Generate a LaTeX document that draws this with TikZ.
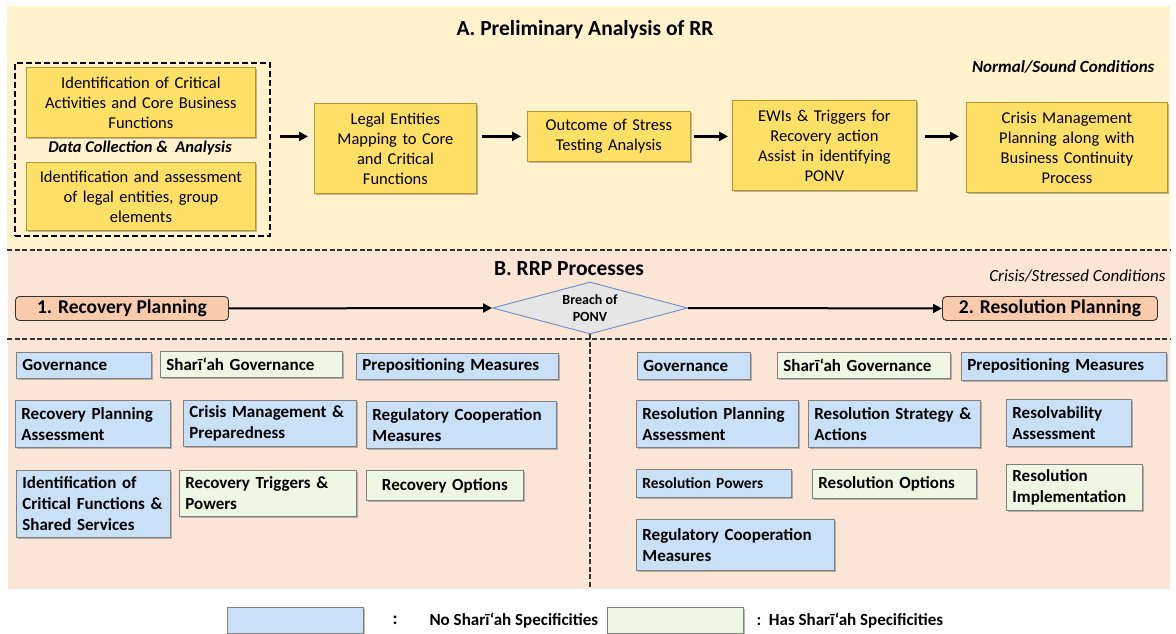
\documentclass[tikz,border=0pt]{standalone}
\usepackage{fontspec}
\setmainfont{Carlito}
\usetikzlibrary{positioning, shapes.geometric, shadows, arrows.meta}

\definecolor{topbg}{HTML}{FFF2CC}
\definecolor{lowbg}{HTML}{FBE5D6}
\definecolor{goldfill}{HTML}{FFE066}
\definecolor{goldline}{HTML}{B8962E}
\definecolor{bluefill}{HTML}{C9E0F7}
\definecolor{greenfill}{HTML}{EEF7E2}
\definecolor{planfill}{HTML}{F8CBAD}
\definecolor{breachfill}{HTML}{E7E6E6}
\definecolor{breachline}{HTML}{6C8EBF}

\begin{document}
\begin{tikzpicture}[x=1pt, y=-1pt]
\tikzstyle{goldbox} = [draw=goldline, fill=goldfill, line width=0.8pt, align=center, anchor=north west, inner sep=4pt, font=\fontsize{16.5}{20}\selectfont, drop shadow={shadow xshift=1.8pt, shadow yshift=-1.8pt, opacity=0.55}]
\tikzstyle{tagbox} = [draw=black!50, line width=0.8pt, align=left, anchor=north west, inner xsep=6pt, inner ysep=2pt, font=\bfseries\fontsize{17}{21}\selectfont, drop shadow={shadow xshift=1.8pt, shadow yshift=-1.8pt, opacity=0.55}]
\tikzstyle{nobox} = [tagbox, fill=bluefill]
\tikzstyle{hasbox} = [tagbox, fill=greenfill]
\tikzstyle{planbox} = [draw=black!80, fill=planfill, rounded corners=4pt, line width=0.9pt, anchor=north west, font=\bfseries\fontsize{19.5}{21}\selectfont]
\tikzstyle{arr} = [-{Triangle[length=9pt, width=9pt]}, line width=2.4pt]
\tikzstyle{sepline} = [black!80, line width=1.4pt, dash pattern=on 5pt off 2.5pt]

\useasboundingbox (0,0) rectangle (1176,634);

% Backgrounds
\fill[topbg] (7,6) rectangle (1170,250);
\fill[lowbg] (8,250) rectangle (1170,589);
\coordinate (lowend) at (0,589);

% A. Preliminary analysis
\node[font=\bfseries\fontsize{21.5}{24}\selectfont] (titleA) at (585,30) {A. Preliminary Analysis of RR};
\node[font=\bfseries\itshape\fontsize{17}{20}\selectfont, anchor=east] (normal) at (1158,67) {Normal/Sound Conditions};

\node[draw, line width=2pt, dash pattern=on 6pt off 3pt, anchor=north west, minimum width=255, minimum height=173] (dcbox) at (14,62) {};
\node[goldbox, text width=221, minimum height=70] (critact) at (26,67) {Identification of Critical\\Activities and Core Business\\Functions};
\node[font=\bfseries\itshape\fontsize{16.5}{20}\selectfont] (datacol) at (140,148) {Data Collection \&\ \ Analysis};
\node[goldbox, text width=221, minimum height=68] (legalid) at (26,162) {Identification and assessment\\of legal entities, group\\elements};

\node[goldbox, text width=154, minimum height=90] (legalmap) at (314,103) {Legal Entities\\Mapping to Core\\and Critical\\Functions};
\node[goldbox, text width=155, minimum height=50] (stress) at (527,111) {Outcome of Stress\\Testing Analysis};
\node[goldbox, text width=176, minimum height=90] (ewi) at (732,100) {EWIs \& Triggers for\\Recovery action\\Assist in identifying\\PONV};
\node[goldbox, text width=193, minimum height=90] (crisis) at (966,102) {Crisis Management\\Planning along with\\Business Continuity\\Process};

\draw[arr, shorten <=9pt, shorten >=6pt] (dcbox.east |- stress) -- (legalmap.west |- stress);
\draw[arr, shorten <=5pt, shorten >=6pt] (legalmap.east |- stress) -- (stress.west);
\draw[arr, shorten <=3pt, shorten >=4pt] (stress.east) -- (ewi.west |- stress);
\draw[arr, shorten <=8pt, shorten >=7pt] (ewi.east |- stress) -- (crisis.west |- stress);

% B. RRP processes
\draw[sepline] (7,250) -- (1170,250);
\node[font=\bfseries\fontsize{21.5}{24}\selectfont] (titleB) at (569,269) {B. RRP Processes};
\node[font=\itshape\fontsize{17}{20}\selectfont, anchor=east] (crisiscond) at (1169,276) {Crisis/Stressed Conditions};

\node[planbox, minimum width=213, minimum height=24] (recplan) at (15,296) {1. Recovery Planning};
\node[planbox, minimum width=215, minimum height=24] (resplan) at (942,296) {2. Resolution Planning};
\node[diamond, draw=breachline, fill=breachfill, line width=0.9pt, minimum width=195, minimum height=52, inner sep=0pt, aspect=3.8, align=center, font=\bfseries\fontsize{14}{17}\selectfont] (breach) at (590,308) {Breach of\\PONV};

\draw[arr, line width=2pt] (recplan.east) -- (breach.west);
\draw[arr, line width=2pt] (breach.east) -- (resplan.west);

\draw[sepline] (7,339) -- (1170,339);
\draw[sepline] (breach.south) -- (breach.south |- lowend);

% Recovery planning items
\node[nobox, text width=123, minimum height=26] (lgov) at (16,352) {Governance};
\node[hasbox, text width=170, minimum height=26] (lshar) at (160,351) {Sharī‘ah Governance};
\node[nobox, text width=190, minimum height=26] (lprep) at (356,353) {Prepositioning Measures};
\node[nobox, text width=143, minimum height=47] (lrpa) at (15,400) {Recovery Planning\\Assessment};
\node[nobox, text width=161, minimum height=46] (lcmp) at (183,400) {Crisis Management \&\\Preparedness};
\node[nobox, text width=178, minimum height=47] (lrcm) at (366,401) {Regulatory Cooperation\\Measures};
\node[nobox, text width=142, minimum height=67] (licf) at (16,470) {Identification of\\Critical Functions \&\\Shared Services};
\node[hasbox, text width=165, minimum height=46] (lrtp) at (179,470) {Recovery Triggers \&\\Powers};
\node[hasbox, text width=145, minimum height=30, align=center] (lro) at (366,470) {Recovery Options};

% Resolution planning items
\node[nobox, text width=101, minimum height=27] (rgov) at (637,352) {Governance};
\node[hasbox, text width=161, minimum height=26] (rshar) at (777,352) {Sharī‘ah Governance};
\node[nobox, text width=193, minimum height=28] (rprep) at (961,352) {Prepositioning Measures};
\node[nobox, text width=150, minimum height=47] (rrpa) at (636,400) {Resolution Planning\\Assessment};
\node[nobox, text width=160, minimum height=47] (rrsa) at (808,400) {Resolution Strategy \&\\Actions};
\node[nobox, text width=113, minimum height=47] (rra) at (1006,399) {Resolvability\\Assessment};
\node[nobox, text width=143, minimum height=28, font=\bfseries\fontsize{15.5}{20}\selectfont] (rpow) at (636,469) {Resolution Powers};
\node[hasbox, text width=152, minimum height=29] (ropt) at (812,469) {Resolution Options};
\node[hasbox, text width=124, minimum height=46] (rimp) at (1006,464) {Resolution\\Implementation};
\node[nobox, text width=186, minimum height=51] (rrcm) at (636,519) {Regulatory Cooperation\\Measures};

% Legend
\node[nobox, text width=124, minimum height=26] (legno) at (227,607) {};
\node[font=\bfseries\fontsize{18}{20}\selectfont] (colonno) at (395,620) {:};
\node[font=\bfseries\fontsize{17}{20}\selectfont, anchor=west] (legnotxt) at (426,621) {No Sharī‘ah Specificities};
\node[hasbox, text width=124, minimum height=26] (leghas) at (607,607) {};
\node[font=\bfseries\fontsize{17}{20}\selectfont, anchor=west] (leghastxt) at (753,621) {:\ \ Has Sharī‘ah Specificities};

\end{tikzpicture}
\end{document}
